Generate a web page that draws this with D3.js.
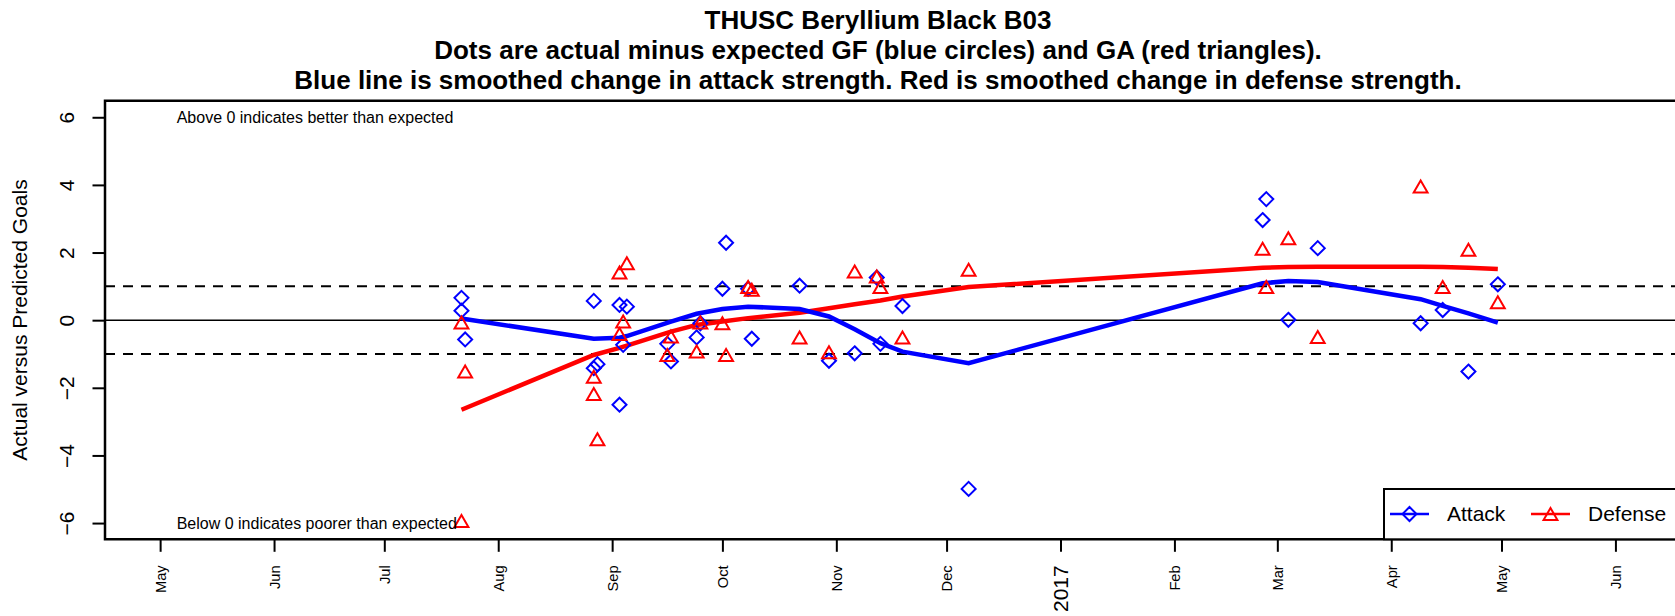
<!DOCTYPE html>
<meta charset="utf-8">
<style>
body { margin: 0; background: #fff; }
svg { font-family: "Liberation Sans", Arial, sans-serif; }
.axis path { display: none; }
.axis line { stroke: #000; stroke-width: 2; }
</style>
<body>
<script src="https://d3js.org/d3.v7.min.js"></script>
<script>

// games, in date order: actual minus expected GF (attack) and GA (defense)
const gameDates = ["2016-07-22", "2016-07-22", "2016-07-23", "2016-08-27", "2016-08-27", "2016-08-28",
  "2016-09-03", "2016-09-03", "2016-09-04", "2016-09-05", "2016-09-16", "2016-09-17",
  "2016-09-24", "2016-09-25", "2016-10-01", "2016-10-02", "2016-10-08", "2016-10-09",
  "2016-10-22", "2016-10-30", "2016-11-06", "2016-11-12", "2016-11-13", "2016-11-19",
  "2016-12-07", "2017-02-25", "2017-02-26", "2017-03-04", "2017-03-12", "2017-04-09",
  "2017-04-15", "2017-04-22", "2017-04-30"];
const attackDiff = [0.66, 0.28, -0.57, 0.57, -1.42, -1.30,
  0.45, -2.50, -0.73, 0.40, -0.70, -1.22,
  -0.51, -0.09, 0.93, 2.29, 0.93, -0.55,
  1.02, -1.20, -0.98, 1.26, -0.70, 0.42,
  -4.99, 2.96, 3.58, 0.01, 2.13, -0.09,
  0.30, -1.52, 1.06];
const defenseDiff = [-0.07, -5.94, -1.52, -1.67, -2.18, -3.52,
  1.41, -0.41, -0.04, 1.68, -1.03, -0.48,
  -0.93, -0.07, -0.09, -1.03, 0.98, 0.90,
  -0.51, -0.95, 1.44, 1.29, 0.98, -0.51,
  1.49, 2.11, 0.98, 2.42, -0.50, 3.95,
  0.98, 2.08, 0.53];

// smoothed change in strength
const smoothDates = ["2016-07-22", "2016-08-27", "2016-09-03", "2016-09-05", "2016-09-17", "2016-09-24",
  "2016-10-01", "2016-10-08", "2016-10-22", "2016-10-30", "2016-11-06", "2016-11-13",
  "2016-11-19", "2016-12-07", "2017-02-25", "2017-03-04", "2017-03-12", "2017-04-09",
  "2017-04-15", "2017-04-22", "2017-04-30"];
const attackSmooth = [0.05, -0.55, -0.52, -0.47, -0.04, 0.19,
  0.33, 0.40, 0.33, 0.11, -0.27, -0.68,
  -0.93, -1.27, 1.09, 1.16, 1.13, 0.62,
  0.42, 0.20, -0.07];
const defenseSmooth = [-2.65, -1.03, -0.82, -0.75, -0.34, -0.14,
  -0.04, 0.06, 0.22, 0.35, 0.47, 0.58,
  0.70, 0.98, 1.55, 1.57, 1.58, 1.58,
  1.57, 1.55, 1.51];

const yTicks = [-6, -4, -2, 0, 2, 4, 6];
const monthTicks = ["2016-05-01", "2016-06-01", "2016-07-01", "2016-08-01", "2016-09-01", "2016-10-01",
  "2016-11-01", "2016-12-01", "2017-01-01", "2017-02-01", "2017-03-01", "2017-04-01",
  "2017-05-01", "2017-06-01"];
const monthLabels = ["May", "Jun", "Jul", "Aug", "Sep", "Oct", "Nov", "Dec", "2017", "Feb", "Mar", "Apr", "May", "Jun"];

const titleLines = ["THUSC Beryllium Black B03",
  "Dots are actual minus expected GF (blue circles) and GA (red triangles).",
  "Blue line is smoothed change in attack strength. Red is smoothed change in defense strength."];

const W = 1675, H = 616;
const plotLeft = 105, plotTop = 100.7, plotBottom = 539.3;
const parse = d3.utcParse("%Y-%m-%d");

const x = d3.scaleUtc()
  .domain([parse("2016-04-16"), parse("2017-07-01")])
  .range([plotLeft, plotLeft + 441 * 3.675]);
const y = d3.scaleLinear().domain([-6.48, 6.49]).range([plotBottom, plotTop]);

const svg = d3.select("body").append("svg")
  .attr("width", W)
  .attr("height", H);

// reference lines
svg.append("line")
  .attr("x1", plotLeft).attr("x2", W + 10)
  .attr("y1", y(0)).attr("y2", y(0))
  .attr("stroke", "#000").attr("stroke-width", 1.5);
[1, -1].forEach(v => {
  svg.append("line")
    .attr("x1", plotLeft).attr("x2", W + 10)
    .attr("y1", y(v)).attr("y2", y(v))
    .attr("stroke", "#000").attr("stroke-width", 2)
    .attr("stroke-dasharray", "10,8");
});

// smoothed lines
const line = d3.line().x(d => x(d[0])).y(d => y(d[1]));
svg.append("path")
  .datum(smoothDates.map((d, i) => [parse(d), defenseSmooth[i]]))
  .attr("d", line).attr("fill", "none")
  .attr("stroke", "#ff0000").attr("stroke-width", 4.5);
svg.append("path")
  .datum(smoothDates.map((d, i) => [parse(d), attackSmooth[i]]))
  .attr("d", line).attr("fill", "none")
  .attr("stroke", "#0000ff").attr("stroke-width", 4.5);

// markers
const diamond = r => `M0,${-r}L${r},0L0,${r}L${-r},0Z`;
const triangle = r => `M0,${-r}L${r * 0.866},${r / 2}L${-r * 0.866},${r / 2}Z`;

svg.append("g").selectAll("path")
  .data(gameDates.map((d, i) => [parse(d), attackDiff[i]]))
  .join("path")
  .attr("transform", d => `translate(${x(d[0])},${y(d[1])})`)
  .attr("d", diamond(7))
  .attr("fill", "none").attr("stroke", "#0000ff").attr("stroke-width", 2);

svg.append("g").selectAll("path")
  .data(gameDates.map((d, i) => [parse(d), defenseDiff[i]]))
  .join("path")
  .attr("transform", d => `translate(${x(d[0])},${y(d[1]) + 2})`)
  .attr("d", triangle(8))
  .attr("fill", "none").attr("stroke", "#ff0000").attr("stroke-width", 2);

// annotations
const noteDate = new Date(Date.UTC(2016, 4, 5, 12));
svg.append("text")
  .attr("x", x(noteDate)).attr("y", y(6)).attr("dy", "0.35em")
  .attr("font-size", 16)
  .text("Above 0 indicates better than expected");
svg.append("text")
  .attr("x", x(noteDate)).attr("y", y(-6)).attr("dy", "0.35em")
  .attr("font-size", 16)
  .text("Below 0 indicates poorer than expected");

// y axis
const yAxis = svg.append("g")
  .attr("class", "axis")
  .attr("transform", `translate(${plotLeft},0)`)
  .call(d3.axisLeft(y).tickValues(yTicks).tickSize(12.5));
yAxis.selectAll("text")
  .attr("x", null).attr("dy", "0.35em")
  .attr("transform", "translate(-38.5,0) rotate(-90)")
  .attr("text-anchor", "middle")
  .attr("font-size", 21).attr("font-family", null).attr("fill", "#000");

svg.append("text")
  .attr("transform", `translate(26.5,${(plotTop + plotBottom) / 2}) rotate(-90)`)
  .attr("text-anchor", "middle")
  .attr("font-size", 21)
  .text("Actual versus Predicted Goals");

// x axis
const xAxis = svg.append("g")
  .attr("class", "axis")
  .attr("transform", `translate(0,${plotBottom})`)
  .call(d3.axisBottom(x).tickValues(monthTicks.map(parse)).tickSize(12.5)
    .tickFormat((d, i) => monthLabels[i]));
xAxis.selectAll("text")
  .attr("y", null).attr("dy", "0.35em")
  .attr("transform", "translate(0,26) rotate(-90)")
  .attr("text-anchor", "end")
  .attr("font-family", null).attr("fill", "#000")
  .attr("font-size", (d, i) => monthLabels[i] === "2017" ? 21 : 14.7);

// plot frame (right side runs off the picture)
svg.append("path")
  .attr("d", `M${W + 10},${plotTop}H${plotLeft}V${plotBottom}H${W + 10}`)
  .attr("fill", "none").attr("stroke", "#000").attr("stroke-width", 2.5);

// legend
const legend = svg.append("g");
legend.append("rect")
  .attr("x", 1384).attr("y", 489)
  .attr("width", 400).attr("height", plotBottom - 489)
  .attr("fill", "#fff").attr("stroke", "#000").attr("stroke-width", 2);
const legendItems = [
  { name: "Attack", color: "#0000ff", shape: diamond(7), dy: 0, lx: 1390, tx: 1447 },
  { name: "Defense", color: "#ff0000", shape: triangle(8), dy: 2, lx: 1531, tx: 1588 }
];
legendItems.forEach(d => {
  legend.append("line")
    .attr("x1", d.lx).attr("x2", d.lx + 39)
    .attr("y1", 514).attr("y2", 514)
    .attr("stroke", d.color).attr("stroke-width", 2.5);
  legend.append("path")
    .attr("transform", `translate(${d.lx + 19.5},${514 + d.dy})`)
    .attr("d", d.shape)
    .attr("fill", "none").attr("stroke", d.color).attr("stroke-width", 2);
  legend.append("text")
    .attr("x", d.tx).attr("y", 514).attr("dy", "0.35em")
    .attr("font-size", 21)
    .text(d.name);
});

// title
svg.append("g").selectAll("text")
  .data(titleLines)
  .join("text")
  .attr("x", 878)
  .attr("y", (d, i) => 29.3 + i * 30)
  .attr("text-anchor", "middle")
  .attr("font-weight", "bold")
  .attr("font-size", 26)
  .text(d => d);

</script>
</body>
